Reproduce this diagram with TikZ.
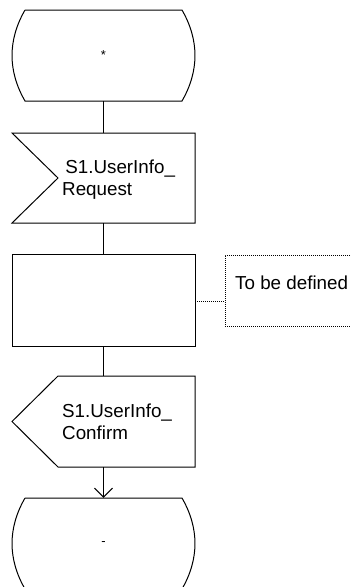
\documentclass[tikz,border=0pt]{standalone}
\usepackage{fontspec}
\setmainfont{Liberation Sans}
\usetikzlibrary{arrows.meta}
\begin{document}
\begin{tikzpicture}[x=1pt,y=-1pt,
  shp/.style={draw=none,inner sep=0pt,minimum width=183pt},
  outl/.style={draw=black,line width=1pt,line join=miter},
  conn/.style={draw=black,line width=1pt},
  dotl/.style={draw=black,line width=1pt,dash pattern=on 1pt off 1pt},
  bigtxt/.style={font=\fontsize{18.8}{22}\selectfont,align=left,inner sep=0pt},
  smalltxt/.style={font=\fontsize{13}{15}\selectfont}]
\useasboundingbox (0,0) rectangle (351,587);
\clip (0,0) rectangle (351,587);
% start state
\node[shp,minimum height=91pt] (start) at (103.5,55.5) {};
\node[smalltxt] (starttxt) at (start.center) {*};
\draw[outl] (25,10) -- (182,10) .. controls (199.3,40) and (199.3,71) .. (182,101)
  -- (25,101) .. controls (7.7,71) and (7.7,40) .. (25,10);
% input signal
\node[shp,minimum height=90pt] (insig) at (103.5,178) {};
\draw[outl] (12,133) -- (195,133) -- (195,223) -- (12,223) -- (58,178) -- cycle;
\node[bigtxt,anchor=west] (intxt) at (62,180) {\,S1.UserInfo\_\\Request};
% task
\node[shp,minimum height=92pt] (task) at (103.5,300) {};
\draw[outl] (12,254) rectangle (195,346);
% note
\node[draw=none,inner sep=0pt,minimum width=140pt,minimum height=71pt] (note) at (295,290.5) {};
\draw[dotl] (360,255) -- (225,255) -- (225,326) -- (360,326);
\node[bigtxt,anchor=west] (notetxt) at (235,283) {To be defined};
% output signal
\node[shp,minimum height=91pt] (outsig) at (103.5,421.5) {};
\draw[outl] (58,376) -- (195,376) -- (195,467) -- (58,467) -- (12,421.5) -- cycle;
\node[bigtxt,anchor=west] (outtxt) at (62,422) {S1.UserInfo\_\\Confirm};
% stop state
\node[shp,minimum height=91pt] (stop) at (103.5,543.5) {};
\node[smalltxt] (stoptxt) at (stop.center) {-};
\draw[outl] (25,498) -- (182,498) .. controls (199.3,528) and (199.3,559) .. (182,589)
  -- (25,589) .. controls (7.7,559) and (7.7,528) .. (25,498);
% connectors
\draw[conn] (start.south) -- (insig.north);
\draw[conn] (insig.south) -- (task.north);
\draw[conn] (task.south) -- (outsig.north);
\draw[conn,-{Straight Barb[length=9pt,width=18pt,line width=1pt]}] (outsig.south) -- (stop.north);
\draw[dotl] (task.east |- 0,301) -- (note.west |- 0,301);
\end{tikzpicture}
\end{document}
